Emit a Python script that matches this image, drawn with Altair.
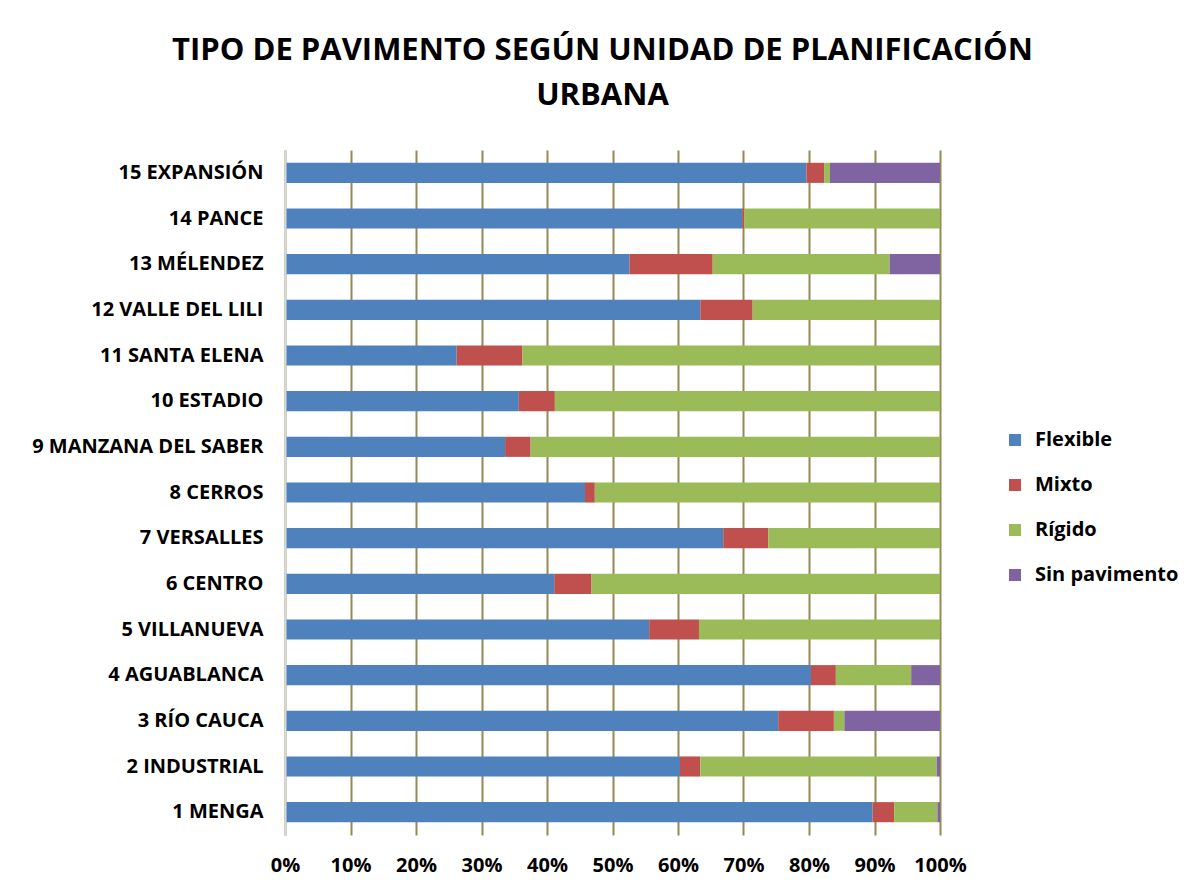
import altair as alt
import pandas as pd

categories = ["1 MENGA", "2 INDUSTRIAL", "3 RÍO CAUCA", "4 AGUABLANCA", "5 VILLANUEVA",
              "6 CENTRO", "7 VERSALLES", "8 CERROS", "9 MANZANA DEL SABER", "10 ESTADIO",
              "11 SANTA ELENA", "12 VALLE DEL LILI", "13 MÉLENDEZ", "14 PANCE", "15 EXPANSIÓN"]
flexible = [89.7, 60.3, 75.3, 80.3, 55.6, 41.1, 66.9, 45.8, 33.6, 35.7, 26.2, 63.4, 52.6, 69.8, 79.6]
mixto = [3.3, 3.1, 8.5, 3.8, 7.6, 5.7, 6.9, 1.5, 3.9, 5.5, 10.0, 8.0, 12.7, 0.3, 2.7]
rigido = [6.6, 36.1, 1.6, 11.5, 36.8, 53.2, 26.2, 52.7, 62.5, 58.8, 63.8, 28.6, 27.0, 29.9, 0.9]
sin_pavimento = [0.4, 0.5, 14.6, 4.4, 0, 0, 0, 0, 0, 0, 0, 0, 7.7, 0, 16.8]

series = ["Flexible", "Mixto", "Rígido", "Sin pavimento"]
colors = ["#4F81BD", "#C0504D", "#9BBB59", "#8064A2"]
x_ticks = [0, 0.1, 0.2, 0.3, 0.4, 0.5, 0.6, 0.7, 0.8, 0.9, 1.0]

rows = []
for s_idx, (name, vals) in enumerate(zip(series, [flexible, mixto, rigido, sin_pavimento])):
    for cat, v in zip(categories, vals):
        rows.append({"category": cat, "series": name, "value": v, "idx": s_idx})
df = pd.DataFrame(rows)

FONT = "Open Sans"

chart = alt.Chart(df).mark_bar().encode(
    x=alt.X("value:Q", stack="normalize",
            scale=alt.Scale(domain=[0, 1], nice=False),
            axis=alt.Axis(format=".0%", values=x_ticks, grid=True, gridColor="#948A54",
                          gridWidth=2, domain=False, ticks=False, labelPadding=20,
                          labelOverlap=False, labelFlush=False,
                          labelFont=FONT, labelFontSize=20, labelFontWeight="bold",
                          labelColor="black", title=None)),
    y=alt.Y("category:N", sort=categories[::-1],
            scale=alt.Scale(paddingInner=0.56, paddingOuter=0.28),
            axis=alt.Axis(title=None, domainColor="#D9D9D9", domainWidth=2, ticks=False,
                          labelPadding=22, grid=False, labelFont=FONT, labelFontSize=20,
                          labelFontWeight="bold", labelColor="black", labelLimit=0,
                          zindex=1)),
    color=alt.Color("series:N", scale=alt.Scale(domain=series, range=colors),
                    legend=alt.Legend(title=None, orient="none", legendX=720, legendY=280,
                                      symbolType="square", symbolSize=144, symbolStrokeWidth=0,
                                      labelFont=FONT, labelFontSize=20, labelFontWeight="bold",
                                      labelColor="black", labelOffset=10, rowPadding=25,
                                      padding=0)),
    order=alt.Order("idx:Q"),
).properties(
    width=655,
    height=685,
    autosize=alt.AutoSizeParams(type="none"),
    padding={"left": 277, "top": 142, "right": 240, "bottom": 50},
    title=alt.TitleParams(text=["TIPO DE PAVIMENTO SEGÚN UNIDAD DE PLANIFICACIÓN", "URBANA"],
                          font=FONT, fontSize=31, fontWeight="bold", lineHeight=45,
                          anchor="middle", dx=-10, offset=38, color="black"),
).configure_view(stroke=None)

chart.save("out.html", embed_options={"renderer": "svg", "actions": False})
